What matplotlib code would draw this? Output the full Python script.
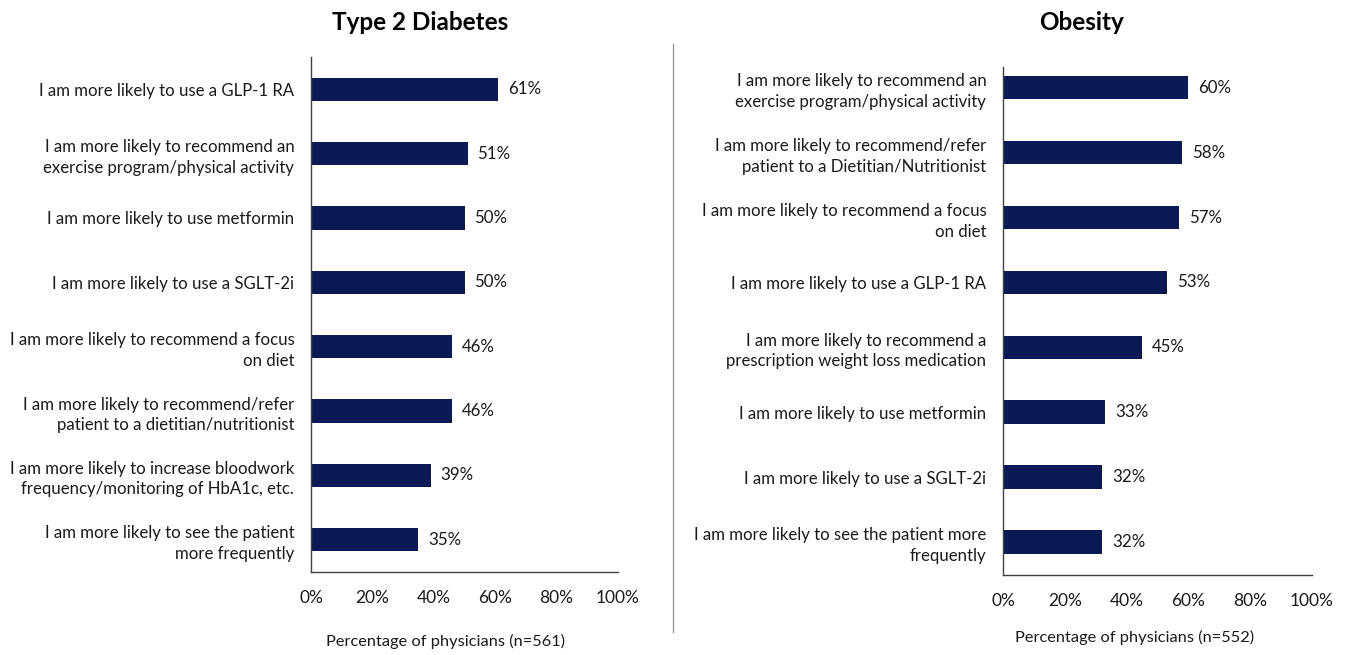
import matplotlib.pyplot as plt
from matplotlib.ticker import PercentFormatter
from matplotlib.lines import Line2D

plt.rcParams['font.family'] = ['Lato', 'DejaVu Sans']

# Type 2 diabetes responses, top to bottom
t2d_labels = [
    "I am more likely to use a GLP-1 RA",
    "I am more likely to recommend an\nexercise program/physical activity",
    "I am more likely to use metformin",
    "I am more likely to use a SGLT-2i",
    "I am more likely to recommend a focus\non diet",
    "I am more likely to recommend/refer\npatient to a dietitian/nutritionist",
    "I am more likely to increase bloodwork\nfrequency/monitoring of HbA1c, etc.",
    "I am more likely to see the patient\nmore frequently",
]
t2d_values = [61, 51, 50, 50, 46, 46, 39, 35]

# Obesity responses, top to bottom
obesity_labels = [
    "I am more likely to recommend an\nexercise program/physical activity",
    "I am more likely to recommend/refer\npatient to a Dietitian/Nutritionist",
    "I am more likely to recommend a focus\non diet",
    "I am more likely to use a GLP-1 RA",
    "I am more likely to recommend a\nprescription weight loss medication",
    "I am more likely to use metformin",
    "I am more likely to use a SGLT-2i",
    "I am more likely to see the patient more\nfrequently",
]
obesity_values = [60, 58, 57, 53, 45, 33, 32, 32]

titles = ["Type 2 Diabetes", "Obesity"]
xlabels = ["Percentage of physicians (n=561)", "Percentage of physicians (n=552)"]

BAR = "#0b1a55"
TXT = "#1a1a1a"
W, H = 1346, 655

fig = plt.figure(figsize=(W / 100, H / 100), dpi=100)

def px_axes(left, top, right, bottom):
    return fig.add_axes([left / W, 1 - bottom / H, (right - left) / W, (bottom - top) / H])

ax1 = px_axes(311, 57, 618, 572)
ax2 = px_axes(1003, 67, 1312, 575)

panels = [
    (ax1, t2d_labels, t2d_values, (7.5, -0.5)),
    (ax2, obesity_labels, obesity_values, (7.51, -0.32)),
]

for ax, labels, values, ylim in panels:
    pos = list(range(len(values)))
    bars = ax.barh(pos, values, height=0.36, color=BAR)
    ax.set_ylim(*ylim)
    ax.set_xlim(0, 100)
    ax.set_xticks([0, 20, 40, 60, 80, 100])
    ax.xaxis.set_major_formatter(PercentFormatter(decimals=0))
    ax.set_yticks(pos)
    ax.set_yticklabels(labels, fontsize=12.1, ha='right', multialignment='right',
                       linespacing=1.35)
    ax.tick_params(axis='both', length=0, colors=TXT)
    ax.tick_params(axis='x', labelsize=12.5, pad=13)
    ax.tick_params(axis='y', pad=12)
    for side in ('top', 'right'):
        ax.spines[side].set_visible(False)
    for side in ('left', 'bottom'):
        ax.spines[side].set_color('#404040')
        ax.spines[side].set_linewidth(1.0)
    for b, v in zip(bars, values):
        ax.annotate(f"{v}%", (b.get_width(), b.get_y() + b.get_height() / 2),
                    xytext=(10, 0), textcoords='offset pixels',
                    va='center', ha='left', fontsize=12.2, color=TXT)

fig.text(420 / W, 1 - 22 / H, titles[0], ha='center', va='center',
         fontsize=17.5, fontweight='bold')
fig.text(1082 / W, 1 - 22 / H, titles[1], ha='center', va='center',
         fontsize=17.5, fontweight='bold')
fig.text(445 / W, 1 - 641 / H, xlabels[0], ha='center', va='center',
         fontsize=11.8, color=TXT)
fig.text(1135 / W, 1 - 637 / H, xlabels[1], ha='center', va='center',
         fontsize=11.8, color=TXT)

# divider between the two panels
fig.add_artist(Line2D([673 / W, 673 / W], [1 - 44 / H, 1 - 632 / H],
                      color='#999999', linewidth=1.0))

fig.savefig("out.png", dpi=100)
